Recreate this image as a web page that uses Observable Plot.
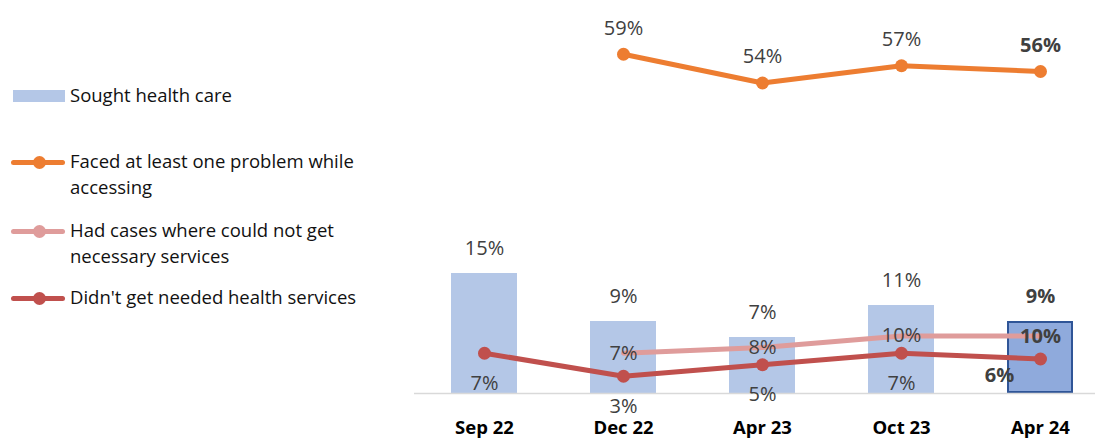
<!DOCTYPE html>
<html>
<head>
<meta charset="utf-8">
<script src="https://cdn.jsdelivr.net/npm/d3@7"></script>
<script src="https://cdn.jsdelivr.net/npm/@observablehq/plot@0.6"></script>
<style>
  html, body { margin: 0; padding: 0; background: #fff; }
  #wrap { display: flex; width: 1095px; height: 438px; overflow: hidden; font-family: "Open Sans", Lato, sans-serif; }
  #legend { position: relative; width: 414px; height: 438px; flex: none; }
  .item { position: absolute; left: 0; width: 414px; }
  .txt { position: absolute; left: 70px; font-size: 18.5px; line-height: 26px; color: #111; white-space: nowrap; }
  .sw { position: absolute; }
  #chart { flex: none; width: 681px; height: 438px; }
</style>
</head>
<body>
<div id="wrap">
  <div id="legend"></div>
  <div id="chart"></div>
</div>
<script>
// ---- data ----
const periods = ["Sep 22", "Dec 22", "Apr 23", "Oct 23", "Apr 24"];
const sought = [15, 9, 7, 11, 9];          // Sought health care (bars)
const faced = [null, 59, 54, 57, 56];      // Faced at least one problem while accessing
const couldNot = [null, 7, 8, 10, 10];     // Had cases where could not get necessary services
const didnt = [7, 3, 5, 7, 6];             // Didn't get needed health services
const seriesNames = [
  "Sought health care",
  "Faced at least one problem while accessing",
  "Had cases where could not get necessary services",
  "Didn't get needed health services"
];
const colors = ["#b4c7e7", "#ed7d31", "#df9c9b", "#c0504d"];
const highlightFill = "#8faadc", highlightStroke = "#2f5597";

// primary (bars) vs secondary (lines) axis ratio
const barScale = 8 / 5.75;

const rows = periods.map((p, i) => ({
  period: p, i, last: i === periods.length - 1,
  sought: sought[i], faced: faced[i], couldNot: couldNot[i], didnt: didnt[i]
}));
const fmt = v => v + "%";

// ---- legend ----
const legend = document.getElementById("legend");
const legendLayout = [
  {top: 82, lines: ["Sought health care"], kind: "bar"},
  {top: 148, lines: ["Faced at least one problem while", "accessing"], kind: "line"},
  {top: 217, lines: ["Had cases where could not get", "necessary services"], kind: "line"},
  {top: 284, lines: ["Didn't get needed health services"], kind: "line"}
];
legendLayout.forEach((l, k) => {
  const it = document.createElement("div");
  it.className = "item";
  it.style.top = l.top + "px";
  const t = document.createElement("div");
  t.className = "txt";
  t.style.top = "0px";
  t.innerHTML = l.lines.join("<br>");
  it.appendChild(t);
  if (l.kind === "bar") {
    const s = document.createElement("div");
    s.className = "sw";
    s.style.cssText = `left:13px;top:8px;width:52px;height:12px;background:${colors[k]}`;
    it.appendChild(s);
  } else {
    const s = document.createElement("div");
    s.className = "sw";
    s.style.cssText = `left:11px;top:12px;width:54px;height:5px;border-radius:3px;background:${colors[k]}`;
    it.appendChild(s);
    const d = document.createElement("div");
    d.className = "sw";
    d.style.cssText = `left:33px;top:8px;width:13px;height:13px;border-radius:50%;background:${colors[k]}`;
    it.appendChild(d);
  }
  legend.appendChild(it);
});

// ---- chart ----
const labelColor = "#404040";
const lab = {fontSize: 20, fill: labelColor, fontFamily: "'Open Sans', sans-serif"};
const f = (key) => rows.filter(d => d[key] != null);

const chart = Plot.plot({
  width: 681,
  height: 438,
  marginLeft: 0, marginRight: 0, marginTop: 0, marginBottom: 45,
  style: {fontFamily: "'Open Sans', sans-serif", background: "#fff", overflow: "hidden"},
  x: {domain: periods, range: [0, 696.25], paddingInner: 0.526, paddingOuter: 0.263, label: null},
  y: {domain: [0, 393 / 5.75], range: [393, 0], axis: null},
  marks: [
    Plot.barY(rows.filter(d => !d.last), {x: "period", y: d => d.sought * barScale, fill: colors[0]}),
    Plot.barY(rows.filter(d => d.last), {x: "period", y: d => d.sought * barScale, fill: highlightFill, stroke: highlightStroke, strokeWidth: 2, inset: 1}),
    Plot.ruleY([0], {stroke: "#d9d9d9", strokeWidth: 1.5}),
    Plot.axisX({tickSize: 0, tickPadding: 27, fontSize: 18.5, fontWeight: "bold", fill: "#000", label: null}),
    Plot.lineY(f("couldNot"), {x: "period", y: "couldNot", stroke: colors[2], strokeWidth: 5}),
    Plot.lineY(f("didnt"), {x: "period", y: "didnt", stroke: colors[3], strokeWidth: 5}),
    Plot.dot(f("didnt"), {x: "period", y: "didnt", fill: colors[3], r: 6.5}),
    Plot.lineY(f("faced"), {x: "period", y: "faced", stroke: colors[1], strokeWidth: 5}),
    Plot.dot(f("faced"), {x: "period", y: "faced", fill: colors[1], r: 6.5}),
    // bar labels
    Plot.text(rows.filter(d => !d.last), {x: "period", y: d => d.sought * barScale, text: d => fmt(d.sought), dy: -25, ...lab}),
    Plot.text(rows.filter(d => d.last), {x: "period", y: d => d.sought * barScale, text: d => fmt(d.sought), dy: -25, ...lab, fontWeight: "bold"}),
    // faced labels
    Plot.text(f("faced").filter(d => !d.last), {x: "period", y: "faced", text: d => fmt(d.faced), dy: -26, ...lab}),
    Plot.text(f("faced").filter(d => d.last), {x: "period", y: "faced", text: d => fmt(d.faced), dy: -26, ...lab, fontWeight: "bold"}),
    // could not labels
    Plot.text(f("couldNot").filter(d => !d.last), {x: "period", y: "couldNot", text: d => fmt(d.couldNot), dy: 0, ...lab}),
    Plot.text(f("couldNot").filter(d => d.last), {x: "period", y: "couldNot", text: d => fmt(d.couldNot), dy: 1, ...lab, fontWeight: "bold"}),
    // didn't labels
    Plot.text(rows.filter(d => !d.last), {x: "period", y: "didnt", text: d => fmt(d.didnt), dy: 30, ...lab}),
    Plot.text(rows.filter(d => d.last), {x: "period", y: "didnt", text: d => fmt(d.didnt), dx: -41, dy: 17, ...lab, fontWeight: "bold"})
  ]
});
document.getElementById("chart").appendChild(chart);
</script>
</body>
</html>
